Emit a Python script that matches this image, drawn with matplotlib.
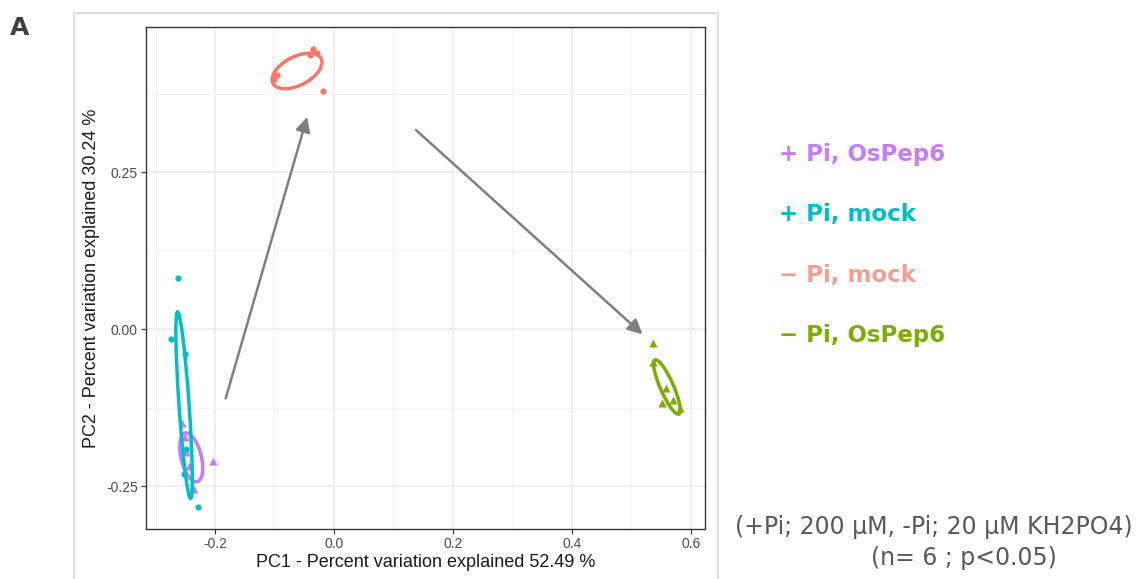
"""PCA score plot (PC1 vs PC2) for the Pi / OsPep6 treatment groups, panel A."""

import matplotlib
matplotlib.use("Agg")
import matplotlib.pyplot as plt
from matplotlib.patches import Ellipse, Rectangle

# ---- data ------------------------------------------------------------------
groups = ["+ Pi, OsPep6", "+ Pi, mock", "\u2212 Pi, mock", "\u2212 Pi, OsPep6"]
colors = ["#C77CFF", "#00BFC4", "#F8766D", "#7CAE00"]
label_colors = ["#C77CFF", "#00BFC4", "#F59E95", "#7CAE00"]
markers = ["^", "o", "o", "^"]

pc1_pep_plus = [-0.256, -0.250, -0.248, -0.203, -0.236, -0.244]
pc2_pep_plus = [-0.150, -0.171, -0.195, -0.209, -0.254, -0.218]
pc1_mock_plus = [-0.262, -0.274, -0.250, -0.252, -0.228, -0.249]
pc2_mock_plus = [0.081, -0.015, -0.039, -0.231, -0.283, -0.190]
pc1_mock_minus = [-0.035, -0.029, -0.096, -0.101, -0.019, -0.040]
pc2_mock_minus = [0.446, 0.440, 0.404, 0.398, 0.379, 0.437]
pc1_pep_minus = [0.537, 0.537, 0.559, 0.551, 0.582, 0.571]
pc2_pep_minus = [-0.022, -0.052, -0.094, -0.118, -0.126, -0.112]

pc1 = [pc1_pep_plus, pc1_mock_plus, pc1_mock_minus, pc1_pep_minus]
pc2 = [pc2_pep_plus, pc2_mock_plus, pc2_mock_minus, pc2_pep_minus]

# 95% ellipses: centre, full axis lengths, rotation (deg)
ell_cx = [-0.240, -0.252, -0.062, 0.560]
ell_cy = [-0.204, -0.121, 0.411, -0.092]
ell_w = [0.080, 0.298, 0.090, 0.095]
ell_h = [0.034, 0.017, 0.046, 0.022]
ell_angle = [105, 94.2, 25, 115]

# grey arrows (start -> end)
arrow_x0 = [-0.182, 0.138]
arrow_y0 = [-0.110, 0.317]
arrow_x1 = [-0.045, 0.519]
arrow_y1 = [0.338, -0.008]

xlabel = "PC1 - Percent variation explained 52.49 %"
ylabel = "PC2 - Percent variation explained 30.24 %"
note_lines = ["(+Pi; 200 \u03bcM, -Pi; 20 \u03bcM KH2PO4)", "(n= 6 ; p<0.05)"]

# ---- figure ----------------------------------------------------------------
plt.rcParams["font.family"] = ["Liberation Sans", "DejaVu Sans"]

fig = plt.figure(figsize=(11.36, 5.79), dpi=100)
fig.patches.append(Rectangle((74 / 1136, -0.05), (718 - 74) / 1136, 1.05 - 13 / 579,
                             transform=fig.transFigure, fill=False,
                             edgecolor="#D6D6D6", lw=1.2))
fig.text(10 / 1136, 1 - 28 / 579, "A", fontsize=18, fontweight="bold",
         color="#404040", family="DejaVu Sans", va="center", ha="left")

ax = fig.add_axes([146 / 1136, 50 / 579, (705 - 146) / 1136, (529 - 27) / 579])
ax.set_xlim(-0.316, 0.624)
ax.set_ylim(-0.318, 0.481)

ax.set_xticks([-0.2, 0.0, 0.2, 0.4, 0.6])
ax.set_xticks([-0.3, -0.1, 0.1, 0.3, 0.5], minor=True)
ax.set_yticks([-0.25, 0.0, 0.25])
ax.set_yticks([-0.125, 0.125, 0.375], minor=True)
ax.set_xticklabels(["-0.2", "0.0", "0.2", "0.4", "0.6"])
ax.set_yticklabels(["-0.25", "0.00", "0.25"])
ax.grid(True, which="major", color="#EBEBEB", lw=1.1)
ax.grid(True, which="minor", color="#F3F3F3", lw=0.7)
ax.set_axisbelow(True)
ax.tick_params(which="major", length=3.5, width=0.8, color="#333333",
               labelsize=10, labelcolor="#4D4D4D", pad=2.5)
ax.tick_params(which="minor", length=0)
for s in ax.spines.values():
    s.set_color("#333333")
    s.set_linewidth(1.0)

ax.set_xlabel(xlabel, fontsize=13, color="#1A1A1A", labelpad=2)
ax.set_ylabel(ylabel, fontsize=13, color="#1A1A1A", labelpad=4)

for i in range(len(groups)):
    ms = 34 if markers[i] == "^" else 20
    ax.scatter(pc1[i], pc2[i], s=ms, marker=markers[i], color=colors[i],
               lw=0, zorder=3)
    ax.add_patch(Ellipse((ell_cx[i], ell_cy[i]), ell_w[i], ell_h[i],
                         angle=ell_angle[i], fill=False, edgecolor=colors[i],
                         lw=2.5, zorder=4))

for x0, y0, x1, y1 in zip(arrow_x0, arrow_y0, arrow_x1, arrow_y1):
    ax.annotate("", xy=(x1, y1), xytext=(x0, y0),
                arrowprops=dict(arrowstyle="-|>", color="#7F7F7F", lw=1.8,
                                mutation_scale=22, shrinkA=0, shrinkB=0),
                zorder=5)

# coloured group labels on the right
for i, (g, c) in enumerate(zip(groups, label_colors)):
    fig.text(779 / 1136, 1 - (154 + 60.5 * i) / 579, g, fontsize=16.5,
             fontweight="bold", color=c, family="DejaVu Sans",
             va="center", ha="left")

fig.text(1133 / 1136, 1 - 527 / 579, note_lines[0], fontsize=17,
         color="#595959", family="DejaVu Sans", va="center", ha="right")
fig.text(1057 / 1136, 1 - 558 / 579, note_lines[1], fontsize=17,
         color="#595959", family="DejaVu Sans", va="center", ha="right")

fig.savefig("out.png", dpi=100)
